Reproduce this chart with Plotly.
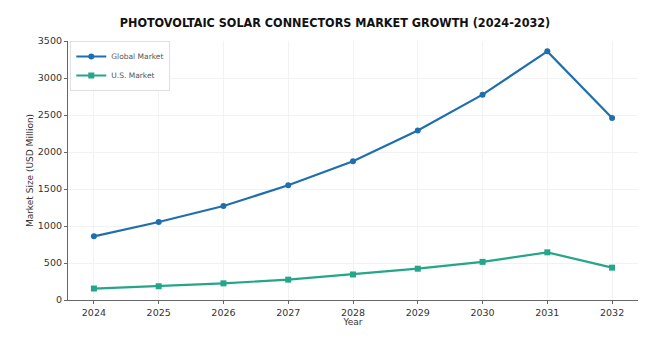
import plotly.graph_objects as go

years = [2024, 2025, 2026, 2027, 2028, 2029, 2030, 2031, 2032]
global_market = [860, 1054, 1270, 1550, 1875, 2290, 2775, 3360, 2459]
us_market = [155, 186, 225, 275, 345, 423, 515, 644, 437]

fig = go.Figure()
fig.add_trace(go.Scatter(x=years, y=global_market, mode="lines+markers", name="Global Market",
                         line=dict(color="#1f6fae", width=2.2), marker=dict(size=6, symbol="circle")))
fig.add_trace(go.Scatter(x=years, y=us_market, mode="lines+markers", name="U.S. Market",
                         line=dict(color="#25a58a", width=2.2), marker=dict(size=6, symbol="square")))

fig.update_layout(
    width=670, height=350,
    margin=dict(l=68, r=32, t=41, b=50),
    paper_bgcolor="white", plot_bgcolor="white",
    title=dict(text="<b>PHOTOVOLTAIC SOLAR CONNECTORS MARKET GROWTH (2024-2032)</b>",
               x=0.5, xanchor="center", y=0.935, yanchor="middle",
               font=dict(family="DejaVu Sans Condensed, sans-serif", size=12.5, color="#111")),
    legend=dict(x=0.004, y=1.0, xanchor="left", yanchor="top", bgcolor="white",
                bordercolor="#e0e0e0", borderwidth=1, font=dict(size=7.5, color="#555"),
                itemwidth=30, tracegroupgap=0),
    font=dict(family="DejaVu Sans, sans-serif", color="#333"),
)
fig.update_xaxes(range=[2023.6, 2032.4], tickmode="array", tickvals=years, ticktext=[str(y) for y in years],
                 showline=True, linecolor="#666", linewidth=1.2, ticks="outside", ticklen=3, tickcolor="#666",
                 showgrid=True, gridcolor="#f2f2f2", zeroline=False,
                 tickfont=dict(size=9.5, color="#333"),
                 title=dict(text="Year", font=dict(size=9, color="#333"), standoff=0))
fig.update_yaxes(range=[0, 3500], tickvals=[0, 500, 1000, 1500, 2000, 2500, 3000, 3500],
                 showline=True, linecolor="#666", linewidth=1.2, ticks="outside", ticklen=3, tickcolor="#666",
                 showgrid=True, gridcolor="#f2f2f2", zeroline=False,
                 tickfont=dict(size=9.5, color="#333"),
                 title=dict(text="Market Size (USD Million)", font=dict(size=9, color="#333"), standoff=2))

fig.write_html("out.html")
